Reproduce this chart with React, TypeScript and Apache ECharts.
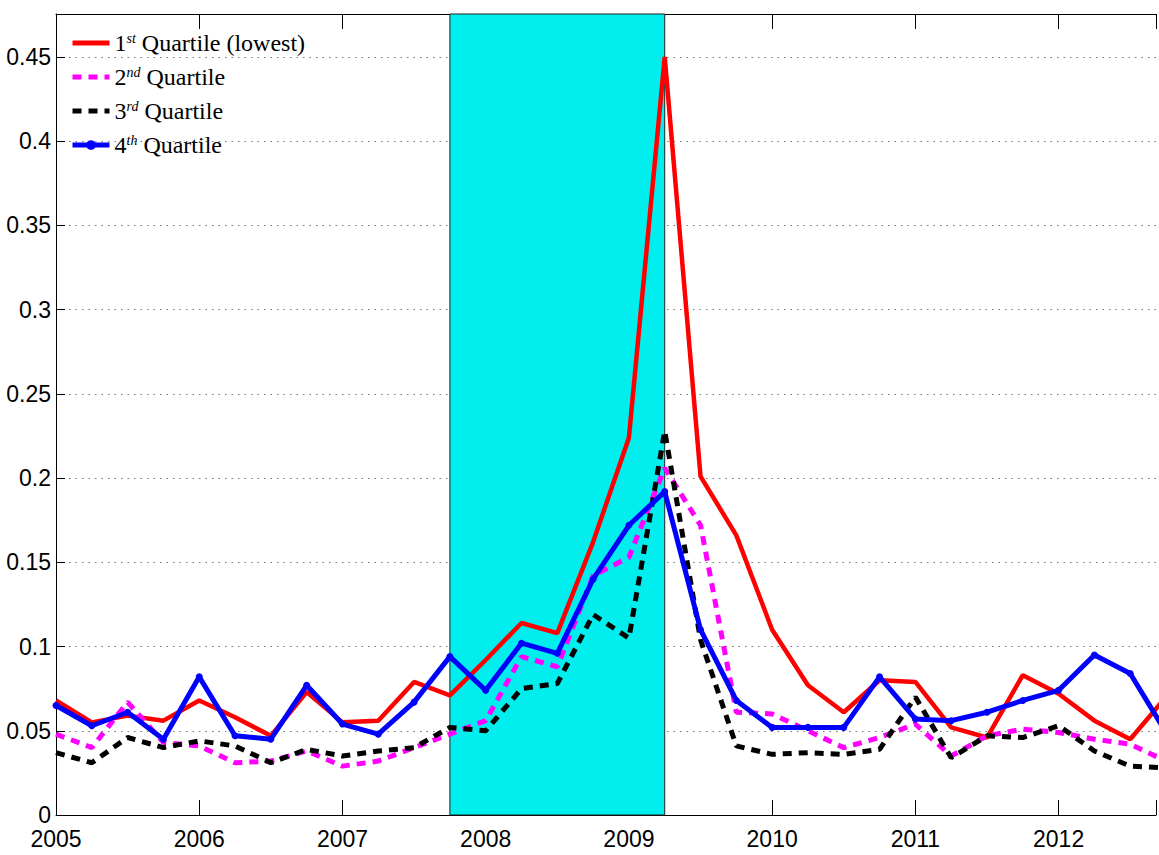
import React, { useEffect, useRef } from 'react';
import * as echarts from 'echarts';

const quarters = [
  2005, 2005.25, 2005.5, 2005.75, 2006, 2006.25, 2006.5, 2006.75,
  2007, 2007.25, 2007.5, 2007.75, 2008, 2008.25, 2008.5, 2008.75,
  2009, 2009.25, 2009.5, 2009.75, 2010, 2010.25, 2010.5, 2010.75,
  2011, 2011.25, 2011.5, 2011.75, 2012, 2012.25, 2012.5, 2012.75,
];

const q1 = [0.068, 0.055, 0.059, 0.056, 0.068, 0.058, 0.047, 0.073, 0.055, 0.056, 0.079, 0.071, 0.092, 0.114, 0.108, 0.162, 0.224, 0.450, 0.201, 0.166, 0.110, 0.077, 0.061, 0.080, 0.079, 0.052, 0.046, 0.083, 0.072, 0.056, 0.045, 0.070];
const q2 = [0.048, 0.040, 0.067, 0.043, 0.041, 0.031, 0.032, 0.038, 0.029, 0.032, 0.040, 0.048, 0.056, 0.094, 0.088, 0.142, 0.153, 0.206, 0.172, 0.061, 0.060, 0.050, 0.040, 0.046, 0.054, 0.035, 0.047, 0.051, 0.049, 0.045, 0.042, 0.032];
const q3 = [0.037, 0.031, 0.046, 0.040, 0.044, 0.041, 0.031, 0.039, 0.035, 0.038, 0.040, 0.052, 0.050, 0.075, 0.078, 0.119, 0.105, 0.228, 0.104, 0.041, 0.036, 0.037, 0.036, 0.039, 0.070, 0.034, 0.047, 0.046, 0.053, 0.038, 0.029, 0.028];
const q4 = [0.065, 0.053, 0.061, 0.045, 0.082, 0.047, 0.045, 0.077, 0.054, 0.048, 0.067, 0.094, 0.074, 0.102, 0.096, 0.140, 0.172, 0.192, 0.110, 0.068, 0.052, 0.052, 0.052, 0.082, 0.057, 0.056, 0.061, 0.068, 0.074, 0.095, 0.084, 0.049];

const seriesNames = ['1st Quartile (lowest)', '2nd Quartile', '3rd Quartile', '4th Quartile'];
const recession = [2007.75, 2009.25];

const X_MIN = 2005;
const X_MAX = 2012.68;
const Y_MAX = 0.4755;

const pair = (ys: number[]) => quarters.map((x, i) => [x, ys[i]]);

const labelFont = 'Liberation Sans, Arial, sans-serif';
const serifFont = 'Liberation Serif, Times New Roman, serif';

export default function App() {
  const ref = useRef<HTMLDivElement>(null);
  useEffect(() => {
    document.body.style.margin = '0';
    const chart = echarts.init(ref.current!, null, { renderer: 'svg' });
    const isMult = (v: number, step: number) => Math.abs(v / step - Math.round(v / step)) < 1e-6;
    chart.setOption({
      animation: false,
      backgroundColor: '#fff',
      grid: { left: 56, right: 0, top: 14, bottom: 40 },
      legend: {
        data: seriesNames.map((name, i) => ({
          name,
          itemStyle: i < 3 ? { opacity: 0 } : { opacity: 1 },
        })),
        orient: 'vertical',
        left: 70,
        top: 31,
        padding: 0,
        itemWidth: 37,
        itemHeight: 12,
        itemGap: 10,
        lineStyle: { width: 5 },
        formatter: (name: string) => {
          const m = name.match(/^(\d)(\w\w) (.*)$/);
          if (!m) return name;
          return `{n|${m[1]}}{s|${m[2]}}{n| ${m[3]}}`;
        },
        textStyle: {
          fontFamily: serifFont,
          fontSize: 24,
          color: '#000',
          rich: {
            n: { fontFamily: serifFont, fontSize: 24, color: '#000', lineHeight: 24, verticalAlign: 'bottom' },
            s: { fontFamily: serifFont, fontSize: 14, fontStyle: 'italic', color: '#000', lineHeight: 14, verticalAlign: 'top' },
          },
        },
      },
      xAxis: [
        {
          type: 'value',
          min: X_MIN,
          max: X_MAX,
          interval: 1,
          position: 'bottom',
          axisLine: { show: true, lineStyle: { color: '#000', width: 1 } },
          axisTick: { show: true, inside: true, length: 15, lineStyle: { color: '#000' } },
          axisLabel: {
            formatter: (v: number) => (isMult(v, 1) ? String(Math.round(v)) : ''),
            fontFamily: labelFont,
            fontSize: 23,
            color: '#000',
            margin: 12,
          },
          splitLine: { show: false },
        },
        {
          type: 'value',
          min: X_MIN,
          max: X_MAX,
          interval: 1,
          position: 'top',
          axisLine: { show: true, lineStyle: { color: '#000', width: 1 } },
          axisTick: { show: true, inside: true, length: 15, lineStyle: { color: '#000' } },
          axisLabel: { show: false },
          splitLine: { show: false },
        },
      ],
      yAxis: {
        type: 'value',
        min: 0,
        max: Y_MAX,
        interval: 0.05,
        axisLine: { show: true, lineStyle: { color: '#000', width: 1 } },
        axisTick: { show: true, inside: true, length: 9, lineStyle: { color: '#000' } },
        axisLabel: {
          formatter: (v: number) => (isMult(v, 0.05) ? String(parseFloat(v.toFixed(2))) : ''),
          fontFamily: labelFont,
          fontSize: 23,
          color: '#000',
          margin: 5,
        },
        splitLine: { show: true, lineStyle: { color: '#777', type: [1.5, 5], width: 1 } },
      },
      series: [
        {
          type: 'line',
          name: 'recession',
          data: [],
          z: 1,
          silent: true,
          markArea: {
            silent: true,
            itemStyle: { color: '#00eeee', borderColor: '#222', borderWidth: 1 },
            data: [[{ xAxis: recession[0] }, { xAxis: recession[1] }]],
          },
        },
        {
          type: 'line',
          name: seriesNames[0],
          data: pair(q1),
          z: 3,
          symbol: 'none',
          lineStyle: { color: '#ff0000', width: 4.5, type: 'solid' },
          itemStyle: { color: '#ff0000' },
        },
        {
          type: 'line',
          name: seriesNames[1],
          data: pair(q2),
          z: 3,
          symbol: 'none',
          lineStyle: { color: '#ff00ff', width: 5, type: [9, 7] },
          itemStyle: { color: '#ff00ff' },
        },
        {
          type: 'line',
          name: seriesNames[2],
          data: pair(q3),
          z: 3,
          symbol: 'none',
          lineStyle: { color: '#000000', width: 5, type: [9, 7] },
          itemStyle: { color: '#000000' },
        },
        {
          type: 'line',
          name: seriesNames[3],
          data: pair(q4),
          z: 4,
          symbol: 'circle',
          symbolSize: 7,
          showSymbol: true,
          lineStyle: { color: '#0000ff', width: 5, type: 'solid' },
          itemStyle: { color: '#0000ff' },
        },
      ],
    });
    return () => chart.dispose();
  }, []);
  return <div ref={ref} style={{ width: 1159, height: 855 }} />;
}
